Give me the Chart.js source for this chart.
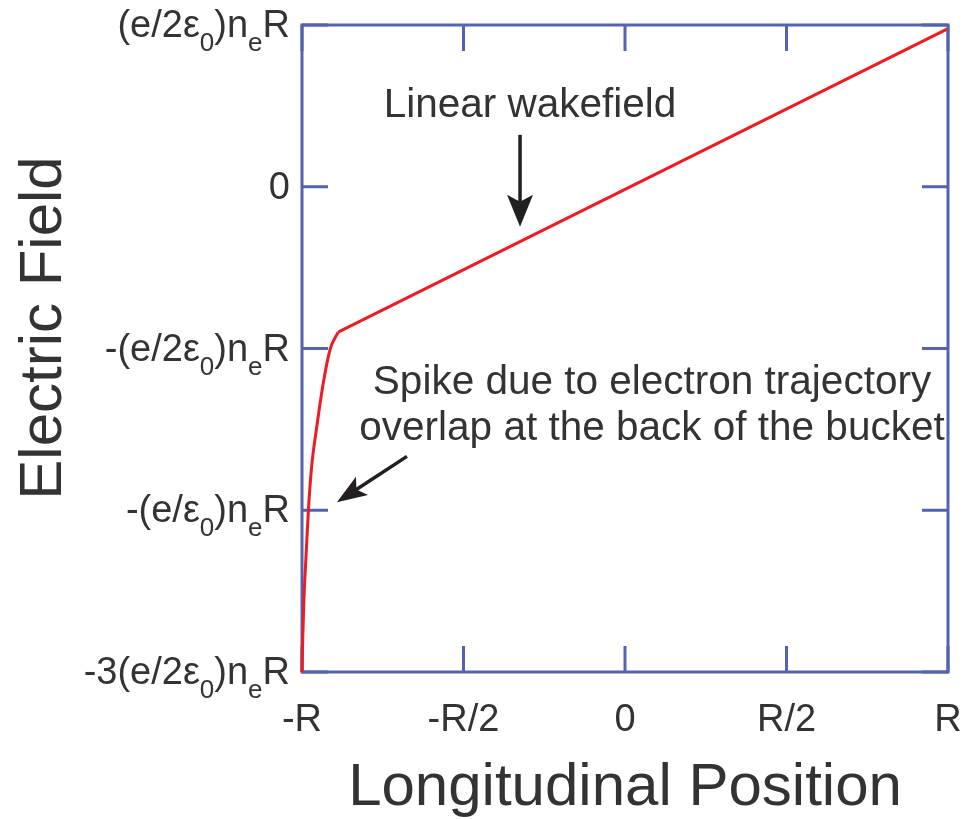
<!DOCTYPE html>
<html>
<head>
<meta charset="utf-8">
<script src="https://cdn.jsdelivr.net/npm/chart.js@4.4.1/dist/chart.umd.min.js"></script>
<style>
  html, body { margin: 0; padding: 0; background: #fff; }
  canvas { display: block; }
</style>
</head>
<body>
<canvas id="fieldChart" width="970" height="819"></canvas>
<script>
// position in units of R, field in units of (e/2ε0)neR
// spike at the back of the bucket
const spikeX = [-1, -0.998, -0.994, -0.988, -0.980, -0.970, -0.954, -0.934, -0.913, -0.888];
const spikeY = [-3, -2.815, -2.549, -2.302, -1.994, -1.727, -1.480, -1.212, -1.006, -0.899];
// linear wakefield
const linearX = [-0.888, 0.997];
const linearY = [-0.899, 0.975];

const xTicks = [-1, -0.5, 0, 0.5, 1];
const xTickLabels = ['-R', '-R/2', '0', 'R/2', 'R'];
const yTicks = [1, 0, -1, -2, -3];
// "_" puts the next character in subscript
const yTickLabels = ['(e/2ε_0)n_eR', '0', '-(e/2ε_0)n_eR', '-(e/ε_0)n_eR', '-3(e/2ε_0)n_eR'];

const FONT = '"Liberation Sans", Arial, Helvetica, sans-serif';
const TEXT = '#333333';
const AXIS = '#5563ae';
const RED = '#ed1c24';
const INK = '#231f20';

// arrows and notes, in data coordinates
const wakeArrow = { from: [-0.325, 0.321], to: [-0.325, -0.247], len: 32, half: 13 };
const spikeArrow = { from: [-0.675, -1.667], to: [-0.892, -1.951], len: 30, half: 11 };
const notes = [
  { text: 'Linear wakefield', x: -0.294, y: 0.432 },
  { text: 'Spike due to electron trajectory', x: 0.0836, y: -1.284 },
  { text: 'overlap at the back of the bucket', x: 0.0836, y: -1.568 }
];

function toPoints(xs, ys) {
  return xs.map((x, i) => ({ x: x, y: ys[i] }));
}

function parseRich(str) {
  const parts = [];
  for (let i = 0; i < str.length; i++) {
    if (str[i] === '_') {
      parts.push({ t: str[i + 1], sub: true });
      i++;
    } else if (parts.length && !parts[parts.length - 1].sub) {
      parts[parts.length - 1].t += str[i];
    } else {
      parts.push({ t: str[i], sub: false });
    }
  }
  return parts;
}

function drawArrow(ctx, x0, y0, x1, y1, len, half) {
  const a = Math.atan2(y1 - y0, x1 - x0);
  const c = Math.cos(a), s = Math.sin(a);
  ctx.beginPath();
  ctx.moveTo(x0, y0);
  ctx.lineTo(x1 - c * len * 0.7, y1 - s * len * 0.7);
  ctx.stroke();
  const bx = x1 - c * len, by = y1 - s * len;
  ctx.beginPath();
  ctx.moveTo(x1, y1);
  ctx.lineTo(bx - s * half, by + c * half);
  ctx.lineTo(x1 - c * len * 0.78, y1 - s * len * 0.78);
  ctx.lineTo(bx + s * half, by - c * half);
  ctx.closePath();
  ctx.fill();
}

// box with inward ticks on all four sides
const framePlugin = {
  id: 'frame',
  beforeDatasetsDraw(chart) {
    const ctx = chart.ctx;
    const { left, right, top, bottom } = chart.chartArea;
    const xs = chart.scales.x, ys = chart.scales.y;
    const tick = 26;
    ctx.save();
    ctx.strokeStyle = AXIS;
    ctx.lineWidth = 3;
    ctx.beginPath();
    xTicks.forEach(v => {
      const px = xs.getPixelForValue(v);
      ctx.moveTo(px, bottom); ctx.lineTo(px, bottom - tick);
      ctx.moveTo(px, top); ctx.lineTo(px, top + tick);
    });
    yTicks.forEach(v => {
      const py = ys.getPixelForValue(v);
      ctx.moveTo(left, py); ctx.lineTo(left + tick, py);
      ctx.moveTo(right, py); ctx.lineTo(right - tick, py);
    });
    ctx.stroke();
    ctx.strokeRect(left, top, right - left, bottom - top);
    ctx.restore();
  }
};

const labelPlugin = {
  id: 'labels',
  afterDraw(chart) {
    const ctx = chart.ctx;
    const { left } = chart.chartArea;
    const xs = chart.scales.x, ys = chart.scales.y;
    const mainFont = '38px ' + FONT;
    const subFont = '26px ' + FONT;
    ctx.save();
    ctx.fillStyle = TEXT;
    ctx.textBaseline = 'alphabetic';
    ctx.textAlign = 'left';

    // y tick labels with subscripts
    yTicks.forEach((v, i) => {
      const parts = parseRich(yTickLabels[i]);
      let w = 0;
      parts.forEach(p => {
        ctx.font = p.sub ? subFont : mainFont;
        w += ctx.measureText(p.t).width;
      });
      let x = left - 12 - w;
      const base = ys.getPixelForValue(v) + 12;
      parts.forEach(p => {
        ctx.font = p.sub ? subFont : mainFont;
        ctx.fillText(p.t, x, p.sub ? base + 14 : base);
        x += ctx.measureText(p.t).width;
      });
    });

    // y axis title
    ctx.save();
    ctx.translate(61, 328);
    ctx.rotate(-Math.PI / 2);
    ctx.font = '60px ' + FONT;
    ctx.textAlign = 'center';
    ctx.fillText('Electric Field', 0, 0);
    ctx.restore();

    // notes
    ctx.font = '40.5px ' + FONT;
    ctx.textAlign = 'center';
    notes.forEach(n => {
      ctx.fillText(n.text, xs.getPixelForValue(n.x), ys.getPixelForValue(n.y));
    });

    // arrows
    ctx.strokeStyle = INK;
    ctx.fillStyle = INK;
    ctx.lineWidth = 3.5;
    [wakeArrow, spikeArrow].forEach(a => {
      drawArrow(ctx,
        xs.getPixelForValue(a.from[0]), ys.getPixelForValue(a.from[1]),
        xs.getPixelForValue(a.to[0]), ys.getPixelForValue(a.to[1]),
        a.len, a.half);
    });
    ctx.restore();
  }
};

const canva = document.getElementById('fieldChart').getContext('2d');

const fieldChart = new Chart(canva, {
  type: 'line',
  data: {
    datasets: [{
      data: toPoints(spikeX, spikeY),
      borderColor: RED,
      borderWidth: 3,
      pointRadius: 0,
      cubicInterpolationMode: 'monotone',
      clip: false
    }, {
      data: toPoints(linearX, linearY),
      borderColor: RED,
      borderWidth: 3,
      pointRadius: 0,
      tension: 0,
      clip: false
    }]
  },
  options: {
    responsive: false,
    animation: false,
    devicePixelRatio: 1,
    layout: { padding: { left: 302, top: 25, right: 22, bottom: 0 } },
    plugins: {
      legend: { display: false },
      tooltip: { enabled: false }
    },
    scales: {
      x: {
        type: 'linear',
        min: -1,
        max: 1,
        afterBuildTicks: scale => { scale.ticks = xTicks.map(v => ({ value: v })); },
        afterFit: scale => {
          scale.height = 147;
          // end labels may hang over the plot edges
          scale.paddingLeft = 0;
          scale.paddingRight = 0;
        },
        ticks: {
          callback: (value, index) => xTickLabels[index],
          font: { size: 38, family: FONT },
          color: TEXT,
          padding: 18,
          maxRotation: 0,
          autoSkip: false
        },
        grid: { display: false },
        border: { display: false },
        title: {
          display: true,
          text: 'Longitudinal Position',
          font: { size: 60, family: FONT, lineHeight: 1 },
          color: TEXT,
          padding: { top: 0, bottom: 1 }
        }
      },
      y: {
        type: 'linear',
        min: -3,
        max: 1,
        display: false
      }
    }
  },
  plugins: [framePlugin, labelPlugin]
});
</script>
</body>
</html>
